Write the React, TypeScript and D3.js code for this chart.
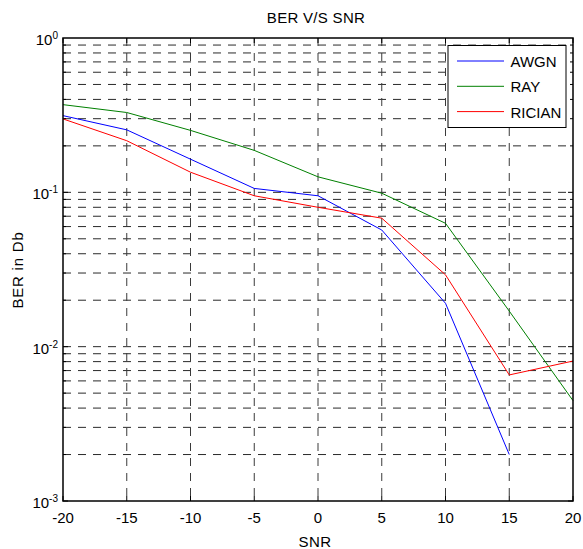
import React from "react";
import * as d3 from "d3";

const snr = [-20, -15, -10, -5, 0, 5, 10, 15, 20];
const awgn = [0.314, 0.254, 0.164, 0.106, 0.095, 0.057, 0.0191, 0.002];
const ray = [0.37, 0.329, 0.252, 0.187, 0.126, 0.0987, 0.063, 0.017, 0.00447];
const rician = [0.299, 0.216, 0.135, 0.095, 0.08, 0.068, 0.0292, 0.00656, 0.00807];
const seriesNames = ["AWGN", "RAY", "RICIAN"];
const seriesColors = ["#0000ff", "#008000", "#ff0000"];
const xTicks = [-20, -15, -10, -5, 0, 5, 10, 15, 20];
const yExponents = [0, -1, -2, -3];

const W = 583, H = 549;
const L = 63, R = 573, T = 38, B = 501;
const FONT = "Liberation Sans, Arial, sans-serif";

export default function App() {
  const x = d3.scaleLinear().domain([-20, 20]).range([L, R]);
  const y = d3.scaleLog().domain([1e-3, 1]).range([B, T]);
  const allSeries = [awgn, ray, rician];
  const line = d3
    .line<[number, number]>()
    .x((d) => x(d[0]))
    .y((d) => y(d[1]));

  const minorVals: number[] = [];
  for (let e = -3; e < 0; e++) {
    for (let m = 1; m <= 9; m++) minorVals.push(m * Math.pow(10, e));
  }
  const isMajor = (v: number) => Math.abs(Math.log10(v) - Math.round(Math.log10(v))) < 1e-9;

  return (
    <svg width={W} height={H} style={{ position: "absolute", left: 0, top: 0, background: "#fff" }}>
      <rect x={0} y={0} width={W} height={H} fill="#fff" />
      {/* horizontal grid */}
      {minorVals.map((v, i) =>
        v > 1e-3 ? (
          <line key={"hg" + i} x1={L} x2={R} y1={y(v)} y2={y(v)} stroke="#2a2a2a" strokeWidth={1} strokeDasharray="8,7" />
        ) : null
      )}
      {/* vertical grid */}
      {xTicks.slice(1, -1).map((t) => (
        <line key={"vg" + t} x1={x(t)} x2={x(t)} y1={T} y2={B} stroke="#3a3a3a" strokeWidth={1} strokeDasharray="8,7" />
      ))}
      {/* ticks */}
      {xTicks.map((t) => (
        <g key={"xt" + t}>
          <line x1={x(t)} x2={x(t)} y1={B} y2={B - 5} stroke="#000" />
          <line x1={x(t)} x2={x(t)} y1={T} y2={T + 5} stroke="#000" />
          <text x={x(t)} y={523} fontSize={15} fontFamily={FONT} textAnchor="middle" fill="#000">
            {t}
          </text>
        </g>
      ))}
      {minorVals.map((v, i) => (
        <g key={"yt" + i}>
          <line x1={L} x2={L + (isMajor(v) ? 5 : 3)} y1={y(v)} y2={y(v)} stroke="#000" />
          <line x1={R} x2={R - (isMajor(v) ? 5 : 3)} y1={y(v)} y2={y(v)} stroke="#000" />
        </g>
      ))}
      {yExponents.map((e) => (
        <text key={"yl" + e} x={L - 5} y={y(Math.pow(10, e)) + 7} fontSize={15} fontFamily={FONT} textAnchor="end" fill="#000">
          10
          <tspan dy={-6} fontSize={10}>
            {e}
          </tspan>
        </text>
      ))}
      {/* series */}
      {allSeries.map((s, i) => (
        <path
          key={"s" + i}
          d={line(s.map((v, j) => [snr[j], v] as [number, number])) || ""}
          fill="none"
          stroke={seriesColors[i]}
          strokeWidth={1}
        />
      ))}
      {/* frame */}
      <rect x={L} y={T} width={R - L} height={B - T} fill="none" stroke="#000" strokeWidth={1.5} />
      {/* legend */}
      <g>
        <rect x={448} y={45.5} width={118} height={82} fill="#fff" stroke="#000" strokeWidth={1} />
        {seriesNames.map((n, i) => (
          <g key={"lg" + n}>
            <line x1={457} x2={504} y1={61 + i * 25.3} y2={61 + i * 25.3} stroke={seriesColors[i]} strokeWidth={1} />
            <text x={510.5} y={61 + i * 25.3 + 6} fontSize={15} fontFamily={FONT} fill="#000">
              {n}
            </text>
          </g>
        ))}
      </g>
      {/* titles */}
      <text x={316} y={23} fontSize={15} fontFamily={FONT} textAnchor="middle" letterSpacing={0.3} fill="#000">
        BER V/S SNR
      </text>
      <text x={315} y={547} fontSize={15} fontFamily={FONT} textAnchor="middle" letterSpacing={0.5} fill="#000">
        SNR
      </text>
      <text
        transform={`translate(23, 270) rotate(-90)`}
        fontSize={15}
        fontFamily={FONT}
        textAnchor="middle"
        letterSpacing={0.8}
        fill="#000"
      >
        BER in Db
      </text>
    </svg>
  );
}
